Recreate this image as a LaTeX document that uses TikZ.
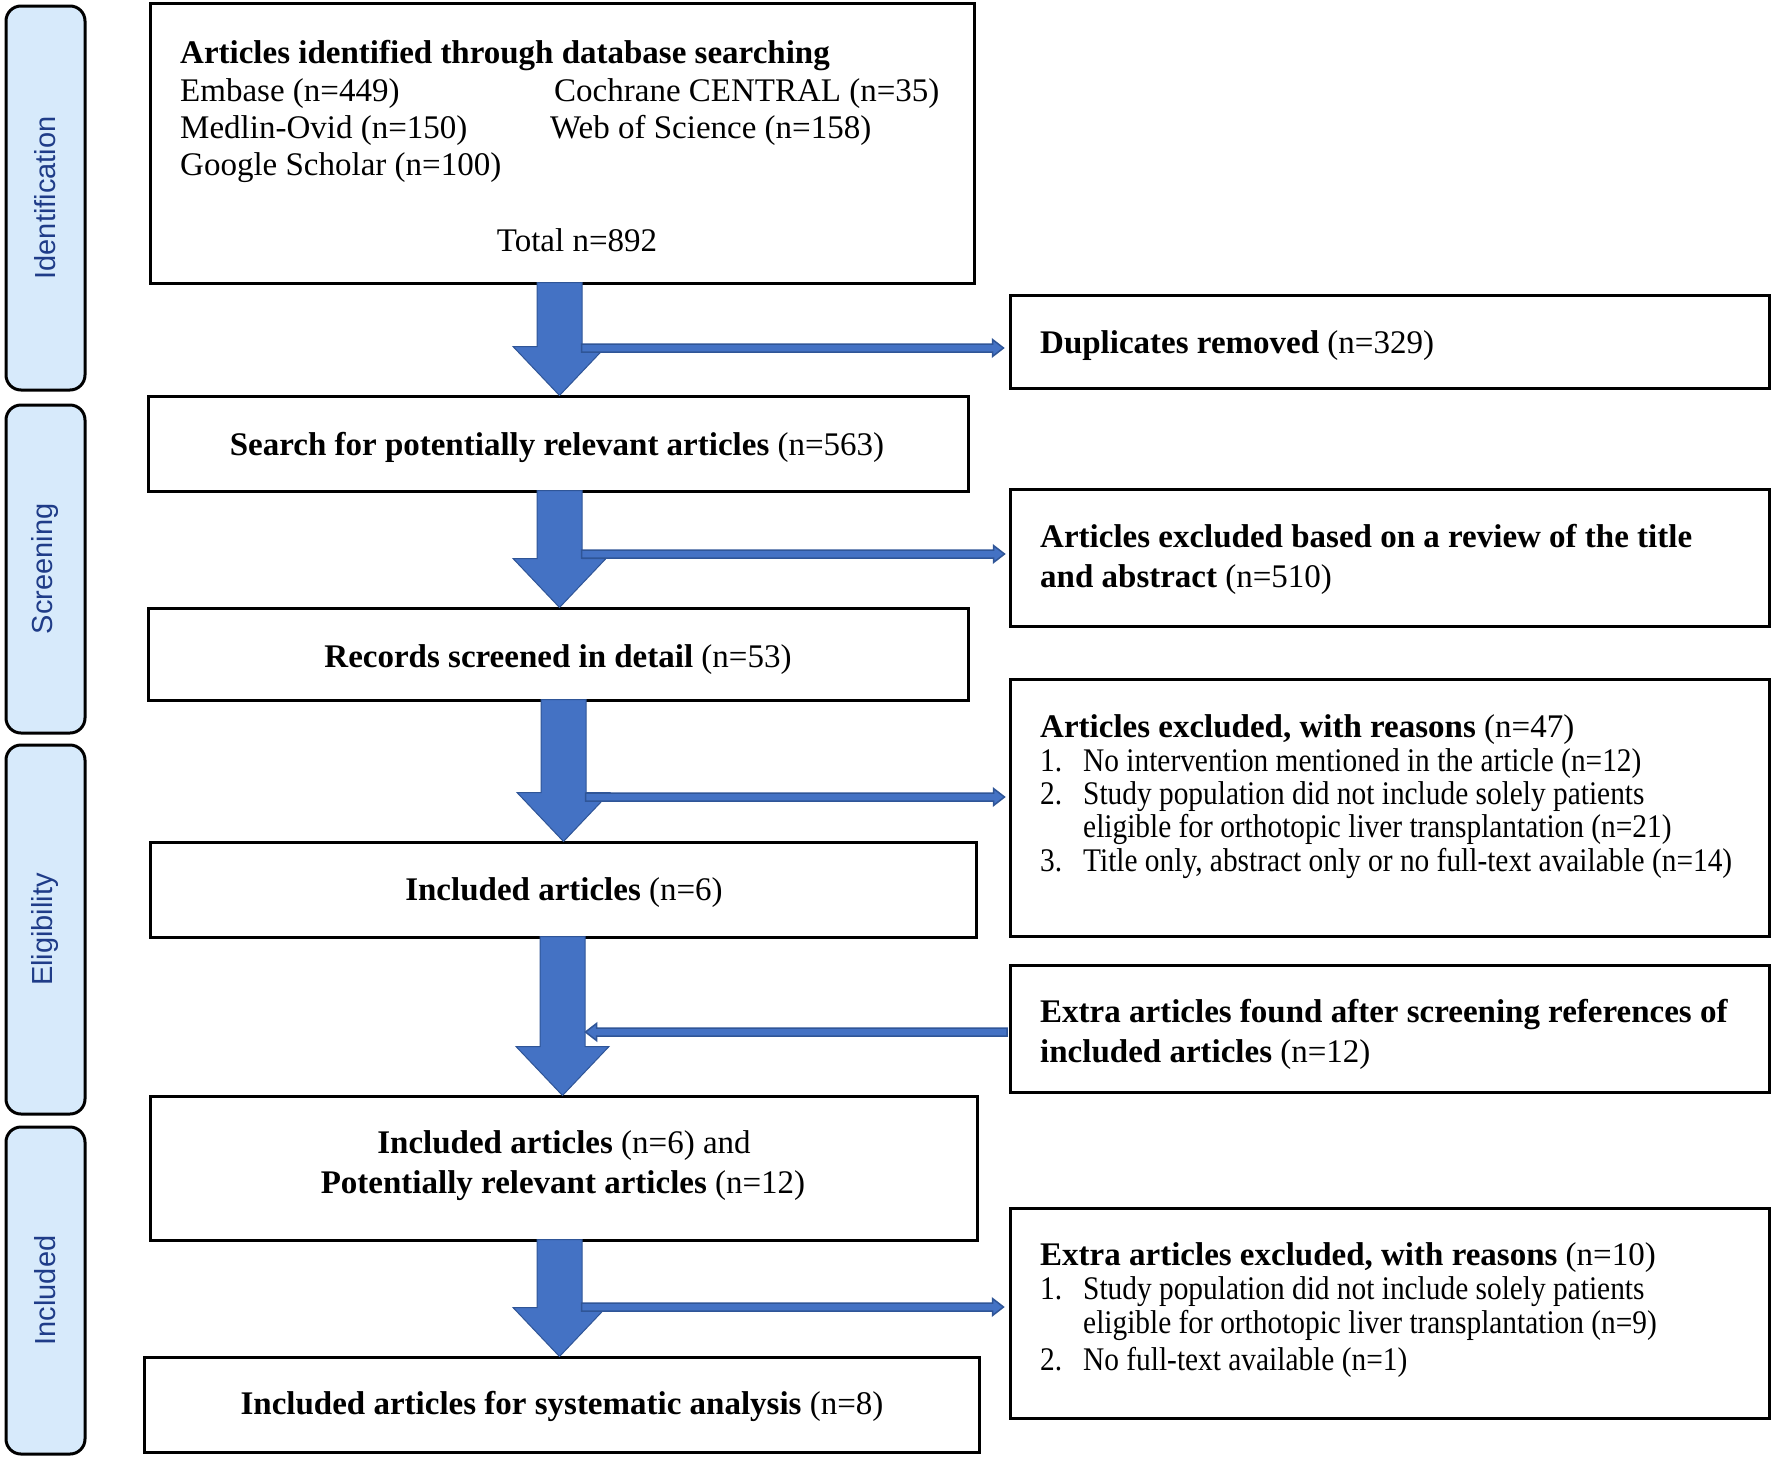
\documentclass[tikz,border=0pt]{standalone}
\usepackage{fontspec}
\setmainfont{Liberation Serif}
\setsansfont{Liberation Sans}
\newfontfamily\narrowserif{Liberation Serif}[FakeStretch=0.89]
\usetikzlibrary{calc}
\definecolor{arrowblue}{HTML}{4472C4}
\definecolor{arrowedge}{HTML}{2F5597}
\definecolor{sidefill}{HTML}{D7EAFB}
\definecolor{sidetext}{HTML}{1F3C88}
\tikzset{
  box/.style={draw=black, line width=3pt, fill=white, rectangle, inner sep=0pt},
  phase/.style={draw=black, line width=3pt, fill=sidefill, rounded corners=15pt, rectangle, inner sep=0pt,
    rotate=90, text=sidetext, font=\sffamily\fontsize{29}{34}\selectfont},
  txt/.style={anchor=base west, inner sep=0pt, font=\fontsize{33}{38}\selectfont},
  ntxt/.style={anchor=base west, inner sep=0pt, font=\narrowserif\fontsize{33}{38}\selectfont},
  ctxt/.style={anchor=base, inner sep=0pt, font=\fontsize{33}{38}\selectfont},
  blockarrow/.style={fill=arrowblue, draw=arrowedge, line width=1pt, line join=miter},
  sidearrow/.style={fill=arrowblue, draw=arrowedge, line width=1.5pt, line join=miter},
}
% block arrow: #1 from node, #2 to node, #3 axis coordinate
\newcommand\blockarr[3]{%
  \draw[blockarrow] ($(#3 |- #1.south)+(-22.5,-2)$) -- ($(#3 |- #2.north)+(-22.5,-48)$)
    -- ($(#3 |- #2.north)+(-46.5,-48)$) -- ($(#3 |- #2.north)+(0,1)$)
    -- ($(#3 |- #2.north)+(46.5,-48)$) -- ($(#3 |- #2.north)+(22.5,-48)$)
    -- ($(#3 |- #1.south)+(22.5,-2)$) -- cycle;}
% thin horizontal arrow: from #1 to #2 (same height)
\newcommand\sidearr[2]{%
  \draw[sidearrow] let \p1=(#1), \p2=(#2), \n1={sign(\x2-\x1)} in
    (\x1,\y1+4pt) -- (\x2-\n1*11pt,\y1+4pt) -- (\x2-\n1*11pt,\y1+8.5pt) -- (\x2,\y1)
    -- (\x2-\n1*11pt,\y1-8.5pt) -- (\x2-\n1*11pt,\y1-4pt) -- (\x1,\y1-4pt) -- cycle;}
\begin{document}
\begin{tikzpicture}[x=1pt,y=-1pt]
\useasboundingbox (0,0) rectangle (1772,1459);

% phase labels
\node[phase, minimum width=384, minimum height=79] (ph1) at (45.5,198) {Identification};
\node[phase, minimum width=328, minimum height=79] (ph2) at (45.5,569) {Screening};
\node[phase, minimum width=369, minimum height=79] (ph3) at (45.5,929.5) {Eligibility};
\node[phase, minimum width=327, minimum height=79] (ph4) at (45.5,1290.5) {Included};

% main column boxes
\node[box, minimum width=824, minimum height=280] (ident) at (562,143) {};
\node[box, minimum width=820, minimum height=95] (search) at (558,443.5) {};
\node[box, minimum width=820, minimum height=92] (records) at (558,654) {};
\node[box, minimum width=826, minimum height=95] (incl) at (563,889.5) {};
\node[box, minimum width=827, minimum height=144] (inclpot) at (563.5,1168) {};
\node[box, minimum width=835, minimum height=95] (final) at (561.5,1404.5) {};

% right column boxes
\node[box, minimum width=759, minimum height=93] (dup) at (1389.5,341.5) {};
\node[box, minimum width=759, minimum height=137] (exta) at (1389.5,557.5) {};
\node[box, minimum width=759, minimum height=257] (exreas) at (1389.5,807.5) {};
\node[box, minimum width=759, minimum height=127] (extra) at (1389.5,1028.5) {};
\node[box, minimum width=759, minimum height=210] (extraex) at (1389.5,1313) {};

% texts of identification box
\node[txt] (t1) at (180,63) {\textbf{Articles identified through database searching}};
\node[txt] (t2a) at (180,101) {Embase (n=449)};
\node[txt] (t2b) at (554,101) {Cochrane CENTRAL (n=35)};
\node[txt] (t3a) at (180,138) {Medlin-Ovid (n=150)};
\node[txt] (t3b) at (550,138) {Web of Science (n=158)};
\node[txt] (t4) at (180,175) {Google Scholar (n=100)};
\node[ctxt] (t5) at (577,251) {Total n=892};

% main column texts
\node[ctxt] (ts) at (557,455) {\textbf{Search for potentially relevant articles} (n=563)};
\node[ctxt] (tr) at (558,667) {\textbf{Records screened in detail} (n=53)};
\node[ctxt] (ti) at (564,900) {\textbf{Included articles} (n=6)};
\node[ctxt] (tip1) at (564,1153) {\textbf{Included articles} (n=6) and};
\node[ctxt] (tip2) at (563,1193) {\textbf{Potentially relevant articles} (n=12)};
\node[ctxt] (tf) at (562,1414) {\textbf{Included articles for systematic analysis} (n=8)};

% right column texts
\node[txt] (td) at (1040,353) {\textbf{Duplicates removed} (n=329)};
\node[txt] (tea1) at (1040,547) {\textbf{Articles excluded based on a review of the title}};
\node[txt] (tea2) at (1040,587) {\textbf{and abstract} (n=510)};
\node[txt] (ter0) at (1040,737) {\textbf{Articles excluded, with reasons} (n=47)};
\node[ntxt] (ter1n) at (1040,771) {1.};
\node[ntxt] (ter1) at (1083,771) {No intervention mentioned in the article (n=12)};
\node[ntxt] (ter2n) at (1040,804) {2.};
\node[ntxt] (ter2) at (1083,804) {Study population did not include solely patients};
\node[ntxt] (ter2b) at (1083,837) {eligible for orthotopic liver transplantation (n=21)};
\node[ntxt] (ter3n) at (1040,871) {3.};
\node[ntxt] (ter3) at (1083,871) {Title only, abstract only or no full-text available (n=14)};
\node[txt] (tx1) at (1040,1022) {\textbf{Extra articles found after screening references of}};
\node[txt] (tx2) at (1040,1062) {\textbf{included articles} (n=12)};
\node[txt] (txe0) at (1040,1265) {\textbf{Extra articles excluded, with reasons} (n=10)};
\node[ntxt] (txe1n) at (1040,1299) {1.};
\node[ntxt] (txe1) at (1083,1299) {Study population did not include solely patients};
\node[ntxt] (txe1b) at (1083,1333) {eligible for orthotopic liver transplantation (n=9)};
\node[ntxt] (txe2n) at (1040,1370) {2.};
\node[ntxt] (txe2) at (1083,1370) {No full-text available (n=1)};

% arrow axes
\coordinate (ax1) at (559.5,0);
\coordinate (ax2) at (559.5,0);
\coordinate (ax3) at (563.5,0);
\coordinate (ax4) at (562.5,0);
\coordinate (ax5) at (559.5,0);

% block arrows
\blockarr{ident}{search}{ax1}
\blockarr{search}{records}{ax2}
\blockarr{records}{incl}{ax3}
\blockarr{incl}{inclpot}{ax4}
\blockarr{inclpot}{final}{ax5}

% side arrows
\sidearr{$(ax1 |- dup.west)+(22,6.5)$}{$(dup.west)+(-5,6.5)$}
\sidearr{$(ax2 |- exta.west)+(22,-3.5)$}{$(exta.west)+(-4,-3.5)$}
\sidearr{$(ax3 |- exreas.west)+(22,-10.5)$}{$(exreas.west)+(-4,-10.5)$}
\sidearr{$(extra.west)+(-1.5,3.5)$}{$(ax4 |- extra.west)+(23,3.5)$}
\sidearr{$(ax5 |- extraex.west)+(22,-6)$}{$(extraex.west)+(-5,-6)$}
\end{tikzpicture}
\end{document}
